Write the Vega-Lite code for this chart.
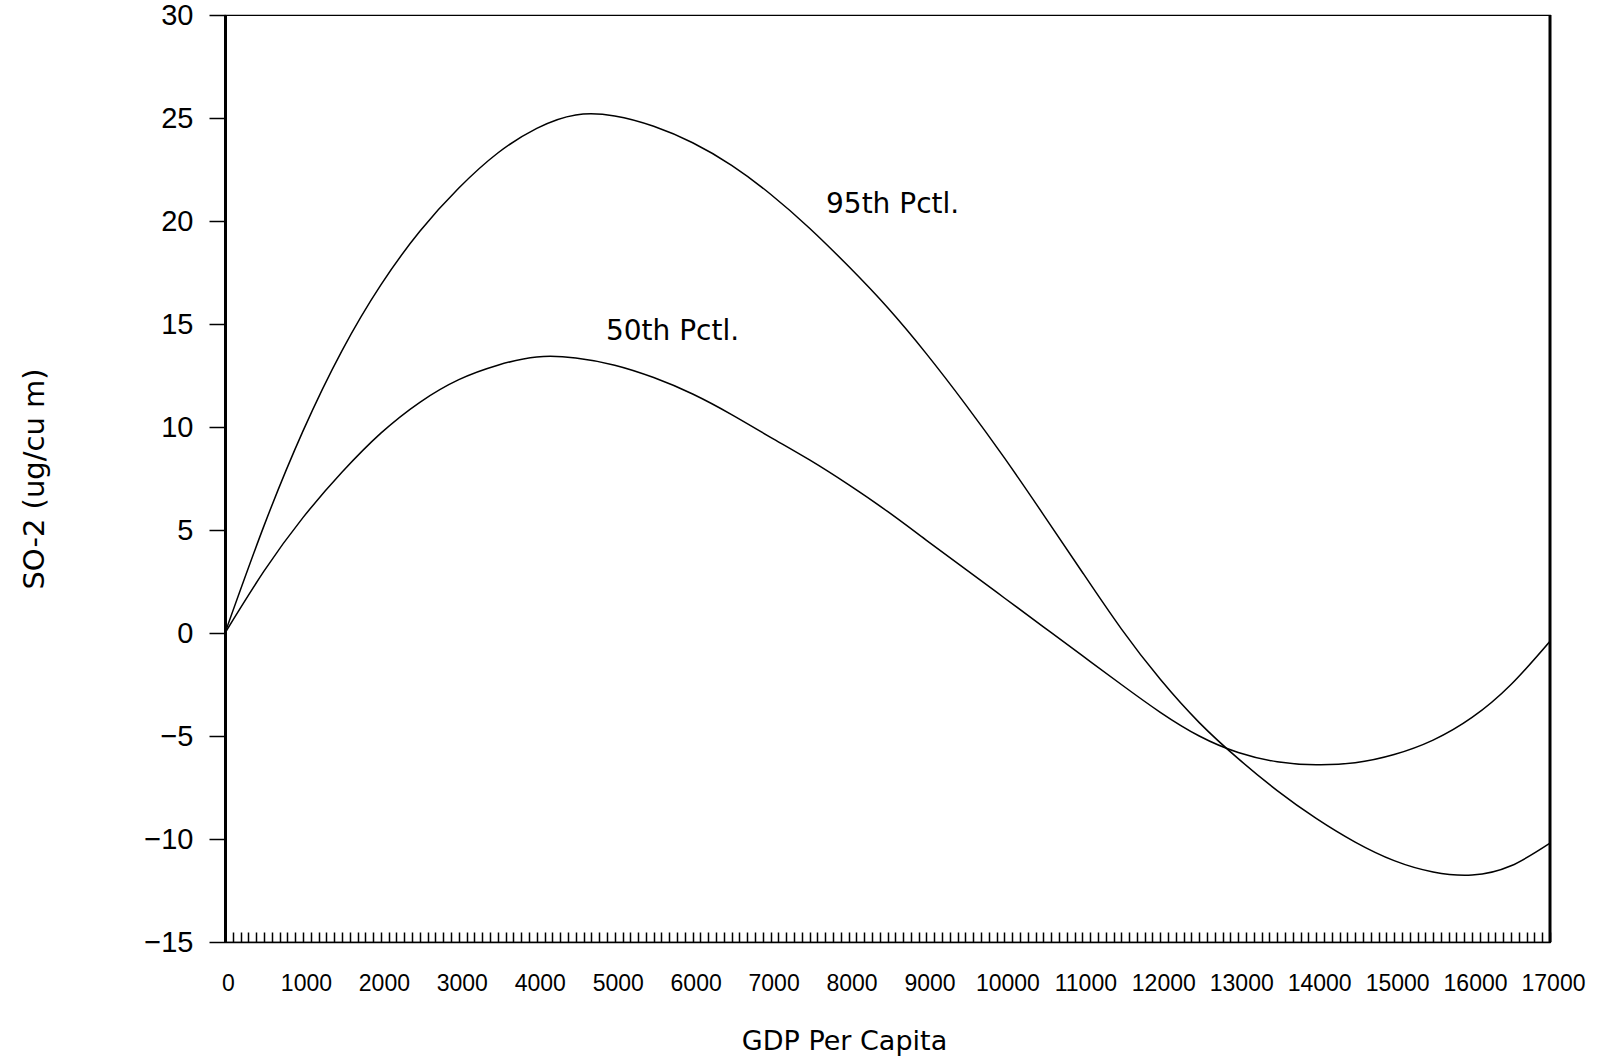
{
  "$schema": "https://vega.github.io/schema/vega-lite/v6.json",
  "width": 1325,
  "height": 927,
  "autosize": "none",
  "padding": {"left": 225, "top": 15, "right": 54, "bottom": 116},
  "background": "white",
  "config": {
    "view": {"stroke": "black", "strokeWidth": 1.2},
    "axis": {"grid": false, "domainColor": "black", "tickColor": "black", "labelColor": "black", "titleColor": "black"}
  },
  "datasets": {
    "curves": [
      {"pctl": "95th", "gdp": 0, "so2": 0},
      {"pctl": "95th", "gdp": 500, "so2": 5.2},
      {"pctl": "95th", "gdp": 1000, "so2": 9.8},
      {"pctl": "95th", "gdp": 1500, "so2": 13.7},
      {"pctl": "95th", "gdp": 2000, "so2": 16.9},
      {"pctl": "95th", "gdp": 2500, "so2": 19.5},
      {"pctl": "95th", "gdp": 3000, "so2": 21.6},
      {"pctl": "95th", "gdp": 3500, "so2": 23.3},
      {"pctl": "95th", "gdp": 4000, "so2": 24.5},
      {"pctl": "95th", "gdp": 4500, "so2": 25.15},
      {"pctl": "95th", "gdp": 5000, "so2": 25.1},
      {"pctl": "95th", "gdp": 5500, "so2": 24.6},
      {"pctl": "95th", "gdp": 6000, "so2": 23.8},
      {"pctl": "95th", "gdp": 6500, "so2": 22.7},
      {"pctl": "95th", "gdp": 7000, "so2": 21.3},
      {"pctl": "95th", "gdp": 7500, "so2": 19.65},
      {"pctl": "95th", "gdp": 8000, "so2": 17.8},
      {"pctl": "95th", "gdp": 8500, "so2": 15.8},
      {"pctl": "95th", "gdp": 9000, "so2": 13.55},
      {"pctl": "95th", "gdp": 9500, "so2": 11.1},
      {"pctl": "95th", "gdp": 10000, "so2": 8.5},
      {"pctl": "95th", "gdp": 10500, "so2": 5.75},
      {"pctl": "95th", "gdp": 11000, "so2": 2.95},
      {"pctl": "95th", "gdp": 11500, "so2": 0.2},
      {"pctl": "95th", "gdp": 12000, "so2": -2.25},
      {"pctl": "95th", "gdp": 12500, "so2": -4.35},
      {"pctl": "95th", "gdp": 13000, "so2": -6.1},
      {"pctl": "95th", "gdp": 13500, "so2": -7.65},
      {"pctl": "95th", "gdp": 14000, "so2": -9.0},
      {"pctl": "95th", "gdp": 14500, "so2": -10.15},
      {"pctl": "95th", "gdp": 15000, "so2": -11.05},
      {"pctl": "95th", "gdp": 15500, "so2": -11.6},
      {"pctl": "95th", "gdp": 16000, "so2": -11.75},
      {"pctl": "95th", "gdp": 16500, "so2": -11.3},
      {"pctl": "95th", "gdp": 17000, "so2": -10.2},
      {"pctl": "50th", "gdp": 0, "so2": 0},
      {"pctl": "50th", "gdp": 500, "so2": 3.0},
      {"pctl": "50th", "gdp": 1000, "so2": 5.6},
      {"pctl": "50th", "gdp": 1500, "so2": 7.8},
      {"pctl": "50th", "gdp": 2000, "so2": 9.7},
      {"pctl": "50th", "gdp": 2500, "so2": 11.2},
      {"pctl": "50th", "gdp": 3000, "so2": 12.3},
      {"pctl": "50th", "gdp": 3500, "so2": 13.0},
      {"pctl": "50th", "gdp": 4000, "so2": 13.4},
      {"pctl": "50th", "gdp": 4500, "so2": 13.35},
      {"pctl": "50th", "gdp": 5000, "so2": 13.0},
      {"pctl": "50th", "gdp": 5500, "so2": 12.4},
      {"pctl": "50th", "gdp": 6000, "so2": 11.6},
      {"pctl": "50th", "gdp": 6500, "so2": 10.6},
      {"pctl": "50th", "gdp": 7000, "so2": 9.5},
      {"pctl": "50th", "gdp": 7500, "so2": 8.4},
      {"pctl": "50th", "gdp": 8000, "so2": 7.2},
      {"pctl": "50th", "gdp": 8500, "so2": 5.9},
      {"pctl": "50th", "gdp": 9000, "so2": 4.5},
      {"pctl": "50th", "gdp": 9500, "so2": 3.1},
      {"pctl": "50th", "gdp": 10000, "so2": 1.7},
      {"pctl": "50th", "gdp": 10500, "so2": 0.3},
      {"pctl": "50th", "gdp": 11000, "so2": -1.1},
      {"pctl": "50th", "gdp": 11500, "so2": -2.5},
      {"pctl": "50th", "gdp": 12000, "so2": -3.85},
      {"pctl": "50th", "gdp": 12500, "so2": -5.0},
      {"pctl": "50th", "gdp": 13000, "so2": -5.8},
      {"pctl": "50th", "gdp": 13500, "so2": -6.25},
      {"pctl": "50th", "gdp": 14000, "so2": -6.4},
      {"pctl": "50th", "gdp": 14500, "so2": -6.3},
      {"pctl": "50th", "gdp": 15000, "so2": -5.9},
      {"pctl": "50th", "gdp": 15500, "so2": -5.2},
      {"pctl": "50th", "gdp": 16000, "so2": -4.1},
      {"pctl": "50th", "gdp": 16500, "so2": -2.5},
      {"pctl": "50th", "gdp": 17000, "so2": -0.4}
    ],
    "labels": [
      {"gdp": 7711, "so2": 20.78, "label": "95th Pctl."},
      {"gdp": 4888, "so2": 14.59, "label": "50th Pctl."}
    ]
  },
  "layer": [
    {
      "data": {"name": "curves"},
      "mark": {"type": "line", "color": "black", "strokeWidth": 1.5, "interpolate": "natural", "clip": true},
      "encoding": {
        "x": {
          "field": "gdp", "type": "quantitative",
          "scale": {"domain": [0, 17000], "nice": false, "zero": false},
          "axis": {
            "title": "GDP Per Capita",
            "tickCount": 170,
            "format": "d",
            "labelExpr": "datum.value % 1000 === 0 ? datum.label : ''",
            "labelOverlap": false,
            "labelFlush": false,
            "tickSize": -10,
            "tickWidth": 1.5,
            "domainWidth": 1.5,
            "labelPadding": 40,
            "labelOffset": 3,
            "labelFont": "Liberation Sans",
            "labelFontSize": 23,
            "titleFont": "DejaVu Sans",
            "titleFontSize": 27,
            "titleFontWeight": "normal",
            "titleX": 619,
            "titlePadding": 33
          }
        },
        "y": {
          "field": "so2", "type": "quantitative",
          "scale": {"domain": [-15, 30], "nice": false, "zero": false},
          "axis": {
            "title": "SO-2 (ug/cu m)",
            "values": [-15, -10, -5, 0, 5, 10, 15, 20, 25, 30],
            "tickSize": 16,
            "tickWidth": 1.5,
            "domainWidth": 3,
            "labelPadding": 16,
            "labelFont": "Liberation Sans",
            "labelFontSize": 29,
            "titleFont": "DejaVu Sans",
            "titleFontSize": 29,
            "titleFontWeight": "normal",
            "titlePadding": 94
          }
        },
        "detail": {"field": "pctl", "type": "nominal"}
      }
    },
    {
      "data": {"name": "labels"},
      "mark": {"type": "text", "align": "left", "baseline": "middle", "font": "DejaVu Sans", "fontSize": 28, "color": "black"},
      "encoding": {
        "x": {"field": "gdp", "type": "quantitative"},
        "y": {"field": "so2", "type": "quantitative"},
        "text": {"field": "label"}
      }
    },
    {
      "data": {"values": [{}]},
      "mark": {"type": "rule", "strokeWidth": 3, "color": "black"},
      "encoding": {"x": {"datum": 17000}}
    }
  ]
}
